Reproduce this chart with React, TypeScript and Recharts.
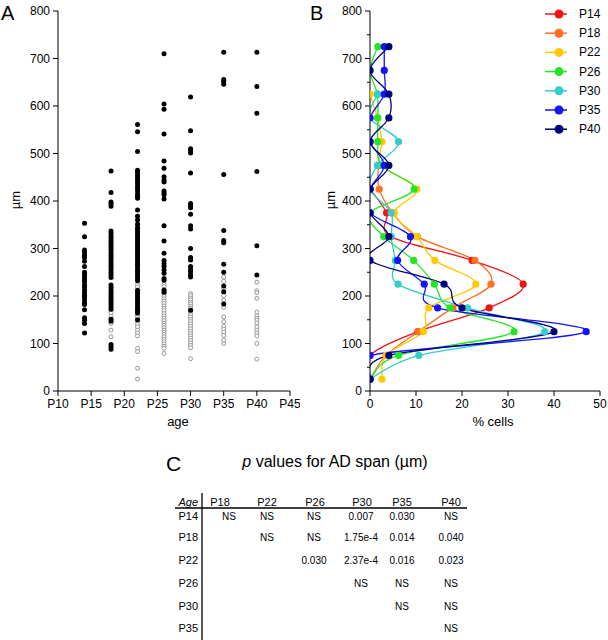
import React from "react";
import { ScatterChart, Scatter, LineChart, Line, XAxis, YAxis, Legend } from "recharts";

const FONT = "'Liberation Sans', Arial, Helvetica, sans-serif";

// ---- A: AD span of each cell against age
const ageTicks = [10, 15, 20, 25, 30, 35, 40, 45];
const spanTicks = [0, 100, 200, 300, 400, 500, 600, 700, 800];
const ages = [14, 18, 22, 26, 30, 35, 40];

const filledP14 = [353, 325, 297, 291, 286, 281, 273, 262, 250, 246, 240, 235, 230, 223, 219, 212, 207, 201, 198, 192, 186, 182, 171, 154, 149, 142, 122];
const filledP18 = [463, 418, 398, 395, 389, 337, 332, 326, 321, 316, 311, 306, 301, 297, 291, 286, 281, 276, 270, 265, 260, 255, 249, 244, 239, 223, 218, 212, 207, 202, 197, 192, 187, 182, 177, 172, 151, 147, 98, 93, 88];
const filledP22 = [561, 546, 504, 465, 460, 455, 451, 446, 441, 436, 430, 426, 421, 415, 410, 406, 381, 368, 360, 351, 344, 340, 335, 330, 325, 320, 316, 311, 306, 301, 297, 292, 287, 282, 277, 272, 267, 262, 257, 252, 247, 242, 237, 232, 212, 207, 202, 197, 192, 187, 182, 177, 172, 168, 164, 150];
const filledP26 = [710, 604, 593, 541, 484, 469, 451, 444, 440, 421, 417, 413, 404, 348, 316, 290, 275, 268, 262, 255, 248, 237, 233, 212, 208];
const filledP30 = [619, 548, 510, 507, 501, 459, 395, 390, 386, 372, 348, 341, 300, 281, 276, 262, 256, 251, 245, 240, 170];
const filledP35 = [713, 656, 652, 646, 456, 338, 317, 312, 267, 250, 221, 209, 183];
const filledP40 = [713, 641, 585, 462, 306, 244];

const openP14: number[] = [];
const openP18 = [165, 157, 142, 128, 114];
const openP22 = [224, 219, 160, 156, 146, 140, 135, 128, 122, 116, 90, 83, 48, 25];
const openP26 = [225, 220, 214, 204, 199, 194, 189, 184, 179, 174, 169, 163, 158, 153, 148, 143, 138, 133, 128, 124, 119, 114, 109, 104, 99, 94, 90, 79];
const openP30 = [205, 201, 196, 192, 187, 183, 178, 174, 166, 161, 156, 151, 146, 141, 136, 131, 126, 121, 116, 111, 106, 101, 96, 91, 68];
const openP35 = [240, 231, 216, 201, 191, 176, 156, 146, 136, 130, 124, 117, 107, 100];
const openP40 = [229, 211, 207, 195, 166, 158, 153, 149, 143, 135, 128, 122, 116, 100, 67];

const filledSpans = [filledP14, filledP18, filledP22, filledP26, filledP30, filledP35, filledP40];
const openSpans = [openP14, openP18, openP22, openP26, openP30, openP35, openP40];

const toPoints = (lists: number[][]) =>
  ages.flatMap((age, i) => lists[i].map((span) => ({ age, span })));
const filledPoints = toPoints(filledSpans);
const openPoints = toPoints(openSpans);

// ---- B: % of cells in 50 um bins
const binCentres = [25, 75, 125, 175, 225, 275, 325, 375, 425, 475, 525, 575, 625, 675, 725];
const binTicks = [0, 50, 100, 150, 200, 250, 300, 350, 400, 450, 500, 550, 600, 650, 700, 750, 800];
const pctTicks = [0, 10, 20, 30, 40, 50];

const pctP14 = [0, 0, 10.4, 25.9, 33.3, 22.2, 4.5, 3.6, 0];
const pctP18 = [0, 3.5, 10.5, 18, 26.3, 22.8, 10.3, 5, 2, 1.8];
const pctP22 = [2.6, 3.5, 11.6, 12.8, 23, 14.1, 10.2, 5.3, 10.2, 2.5, 2.6, 1.6, 0];
const pctP26 = [0, 6.2, 31.3, 17.4, 14, 9.5, 3, 0, 9.6, 2.5, 1.7, 1.7, 1.6, 0, 1.7];
const pctP30 = [0, 10.6, 38, 21.2, 6.1, 5.5, 4.6, 4.6, 0, 1.6, 6.2, 0, 1.7];
const pctP35 = [0, 0, 47, 14.7, 11.8, 6, 8.8, 0, 0, 3.1, 0, 0, 3.1, 3.1, 3.1];
const pctP40 = [0, 4.1, 40, 20, 16.1, 0, 4.1, 0, 0, 4.1, 0, 4.1, 4.1, 0, 4.1];

const seriesNames = ["P14", "P18", "P22", "P26", "P30", "P35", "P40"];
const seriesColors = ["#f01414", "#ff7020", "#ffc800", "#22e622", "#35cccc", "#1414f5", "#00007a"];
const seriesValues = [pctP14, pctP18, pctP22, pctP26, pctP30, pctP35, pctP40];

const histData = binCentres.map((um, i) => {
  const row: Record<string, number | null> = { um };
  seriesNames.forEach((name, k) => {
    row[name] = seriesValues[k][i] ?? null;
  });
  return row;
});

// ---- C: p values table
const tableCols = ["P18", "P22", "P26", "P30", "P35", "P40"];
const tableRows = ["P14", "P18", "P22", "P26", "P30", "P35"];
const pValues = [
  ["NS", "NS", "NS", "0.007", "0.030", "NS"],
  ["", "NS", "NS", "1.75e-4", "0.014", "0.040"],
  ["", "", "0.030", "2.37e-4", "0.016", "0.023"],
  ["", "", "", "NS", "NS", "NS"],
  ["", "", "", "", "NS", "NS"],
  ["", "", "", "", "", "NS"],
];

const headX = [220, 267, 315, 362, 402, 451];
const cellX = [229, 267, 314, 361, 402, 451];
const rowY = [516, 537, 560, 583, 606, 628];

// smooth curve through every point (Catmull-Rom style, like the original plotting program)
const smoothCurve = (context: any) => {
  let pts: number[][] = [];
  return {
    areaStart() {},
    areaEnd() {},
    lineStart() {
      pts = [];
    },
    point(x: number, y: number) {
      pts.push([+x, +y]);
    },
    lineEnd() {
      const n = pts.length;
      if (!n) return;
      context.moveTo(pts[0][0], pts[0][1]);
      for (let i = 0; i < n - 1; i++) {
        const p0 = pts[i - 1] || pts[i];
        const p1 = pts[i];
        const p2 = pts[i + 1];
        const p3 = pts[i + 2] || p2;
        context.bezierCurveTo(
          p1[0] + (p2[0] - p0[0]) / 6,
          p1[1] + (p2[1] - p0[1]) / 6,
          p2[0] - (p3[0] - p1[0]) / 6,
          p2[1] - (p3[1] - p1[1]) / 6,
          p2[0],
          p2[1]
        );
      }
    },
  };
};

const FilledDot = (p: any) => <circle cx={p.cx} cy={p.cy} r={2.5} fill="#000" />;
const OpenDot = (p: any) => (
  <circle cx={p.cx} cy={p.cy} r={2} fill="#fff" stroke="#8c8c8c" strokeWidth={0.9} />
);

const SpanTick = (props: any) => {
  const { x, y, payload } = props;
  const axisX = x + 8;
  const major = payload.value % 100 === 0;
  return (
    <g>
      <line x1={axisX - (major ? 5 : 3)} x2={axisX} y1={y} y2={y} stroke="#000" />
      {major && (
        <text x={x} y={y} textAnchor="end" dominantBaseline="central" fontSize={12} fill="#000" fontFamily={FONT}>
          {payload.value}
        </text>
      )}
    </g>
  );
};

const renderLegend = (props: any) => (
  <svg width={64} height={136} style={{ display: "block" }}>
    {(props.payload || []).map((e: any, i: number) => {
      const cy = 8 + i * 19.2;
      return (
        <g key={e.value}>
          <line x1={1} x2={23} y1={cy} y2={cy} stroke={e.color} strokeWidth={1.5} />
          <circle cx={15} cy={cy} r={4.5} fill={e.color} />
          <text x={35} y={cy} dominantBaseline="central" fontSize={12} fill="#000" fontFamily={FONT}>
            {e.value}
          </text>
        </g>
      );
    })}
  </svg>
);

const axisProps = {
  axisLine: { stroke: "#000" },
  tickLine: { stroke: "#000" },
  tick: { fill: "#000", fontSize: 12, fontFamily: FONT },
  tickSize: 5,
  tickMargin: 3,
};

const App: React.FC = () => (
  <div style={{ position: "absolute", left: 0, top: 0, width: 608, height: 640, background: "#fff", fontFamily: FONT }}>
    <svg width={608} height={640} style={{ position: "absolute", left: 0, top: 0 }} fontFamily={FONT}>
      <text x={1} y={20} fontSize={20} fill="#000">A</text>
      <text x={310} y={20} fontSize={20} fill="#000">B</text>
      <text x={166} y={471} fontSize={21} fill="#000">C</text>
      <text x={335} y={467} fontSize={16} textAnchor="middle" fill="#000">
        <tspan fontStyle="italic">p</tspan> values for AD span (µm)
      </text>
      <line x1={202} x2={202} y1={493} y2={640} stroke="#000" strokeWidth={1.3} />
      <line x1={175} x2={467} y1={508} y2={508} stroke="#000" strokeWidth={1.3} />
      <text x={198} y={502} textAnchor="end" dominantBaseline="central" fontSize={11} fontStyle="italic" fill="#000">Age</text>
      {tableCols.map((c, j) => (
        <text key={c} x={headX[j]} y={502} textAnchor="middle" dominantBaseline="central" fontSize={11} fill="#000">{c}</text>
      ))}
      {tableRows.map((r, i) => (
        <g key={r}>
          <text x={198} y={rowY[i]} textAnchor="end" dominantBaseline="central" fontSize={11} fill="#000">{r}</text>
          {pValues[i].map((v, j) => (
            <text key={j} x={cellX[j]} y={rowY[i]} textAnchor="middle" dominantBaseline="central" fontSize={10} fill="#000">{v}</text>
          ))}
        </g>
      ))}
    </svg>

    <div style={{ position: "absolute", left: 0, top: 0 }}>
      <ScatterChart width={300} height={440} margin={{ top: 11, right: 10, bottom: 11, left: 0 }}>
        <XAxis
          type="number"
          dataKey="age"
          domain={[10, 45]}
          ticks={ageTicks}
          tickFormatter={(v: number) => `P${v}`}
          height={38}
          {...axisProps}
          label={() => (
            <text x={178} y={426} textAnchor="middle" fontSize={13} fill="#000" fontFamily={FONT}>age</text>
          )}
        />
        <YAxis
          type="number"
          dataKey="span"
          domain={[0, 800]}
          ticks={spanTicks}
          width={58}
          {...axisProps}
          label={() => (
            <text x={15} y={200} transform="rotate(-90 15 200)" textAnchor="middle" dominantBaseline="central" fontSize={13} fill="#000" fontFamily={FONT}>µm</text>
          )}
        />
        <Scatter data={openPoints} shape={OpenDot} isAnimationActive={false} />
        <Scatter data={filledPoints} shape={FilledDot} isAnimationActive={false} />
      </ScatterChart>
    </div>

    <div style={{ position: "absolute", left: 300, top: 0 }}>
      <LineChart layout="vertical" width={308} height={440} data={histData} margin={{ top: 11, right: 8, bottom: 11, left: 0 }}>
        <XAxis
          type="number"
          domain={[0, 50]}
          ticks={pctTicks}
          height={38}
          allowDataOverflow
          {...axisProps}
          label={() => (
            <text x={193} y={426} textAnchor="middle" fontSize={13} fill="#000" fontFamily={FONT}>% cells</text>
          )}
        />
        <YAxis
          type="number"
          dataKey="um"
          domain={[0, 800]}
          ticks={binTicks}
          reversed
          width={70}
          axisLine={{ stroke: "#000" }}
          tickLine={false}
          tickSize={5}
          tickMargin={3}
          tick={<SpanTick />}
          label={() => (
            <text x={30} y={200} transform="rotate(-90 30 200)" textAnchor="middle" dominantBaseline="central" fontSize={13} fill="#000" fontFamily={FONT}>µm</text>
          )}
        />
        {seriesNames.map((name, k) => (
          <Line
            key={name}
            dataKey={name}
            name={name}
            type={smoothCurve as any}
            stroke={seriesColors[k]}
            strokeWidth={1.3}
            dot={{ r: 3.6, fill: seriesColors[k], stroke: seriesColors[k], strokeWidth: 0 }}
            activeDot={false}
            isAnimationActive={false}
          />
        ))}
        <Legend
          layout="vertical"
          align="center"
          verticalAlign="middle"
          content={renderLegend}
          wrapperStyle={{ left: 244, top: 6, width: 64 }}
        />
      </LineChart>
    </div>
  </div>
);

export default App;
